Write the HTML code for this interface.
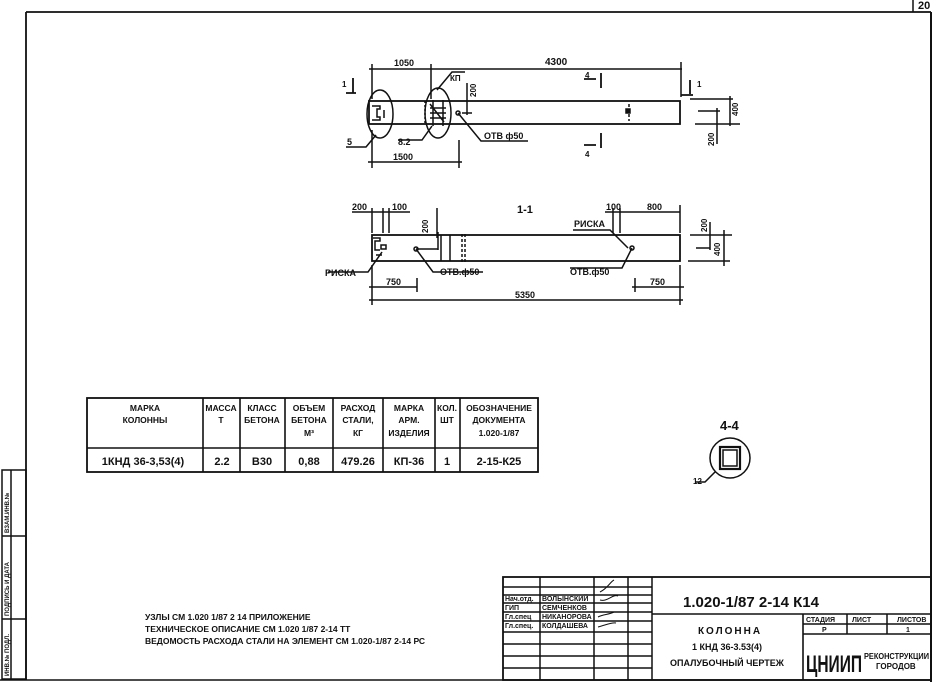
<!DOCTYPE html>
<html><head><meta charset="utf-8"><style>
body{margin:0;background:#fff;width:938px;height:682px;overflow:hidden}
svg{display:block}
text{font-family:"Liberation Sans Narrow","Liberation Sans",sans-serif;font-weight:bold;fill:#111}
</style></head><body>
<svg width="938" height="682" viewBox="0 0 938 682" xmlns="http://www.w3.org/2000/svg">
<g stroke="#111" fill="none" stroke-width="1.5">
<line x1="26" y1="12" x2="931" y2="12" stroke-width="1.8"/>
<line x1="26" y1="12" x2="26" y2="680" stroke-width="1.8"/>
<line x1="931" y1="12" x2="931" y2="682" stroke-width="2"/>
<line x1="0" y1="680" x2="931" y2="680" stroke-width="1.6"/>
<line x1="913" y1="0" x2="913" y2="12"/>
<rect x="2" y="470" width="24" height="209"/>
<line x1="11" y1="470" x2="11" y2="679"/>
<line x1="2" y1="536" x2="26" y2="536"/>
<line x1="2" y1="619" x2="26" y2="619"/>

<rect x="369" y="101" width="311" height="23" stroke-width="1.8"/>
<ellipse cx="380" cy="114" rx="13" ry="24"/>
<ellipse cx="438" cy="113" rx="13" ry="25"/>
<path d="M372 106h8v3h-3v8h3v3h-8M384 110v8"/>
<line x1="425" y1="101" x2="425" y2="124" stroke-dasharray="2,2"/>
<path d="M430 104l14 18M430 108h16M430 113h16M430 118h16M433 100v26M443 100v26"/>
<circle cx="458" cy="113" r="2"/>
<path d="M458 113l23 28h47"/>
<path d="M437 90l15-18h13"/>
<path d="M432 126l-10 14h-24"/>
<path d="M376 135l-10 12h-20"/>
<path d="M629 104v17" stroke-dasharray="3,2"/>
<rect x="626" y="109" width="4" height="4" fill="#111"/>
<line x1="369" y1="69" x2="682" y2="69"/>
<line x1="372" y1="64" x2="372" y2="99"/>
<line x1="431" y1="64" x2="431" y2="99"/>
<line x1="681" y1="62" x2="681" y2="97"/>
<line x1="372" y1="130" x2="372" y2="168"/>
<line x1="459" y1="140" x2="459" y2="168"/>
<line x1="368" y1="162" x2="462" y2="162"/>
<line x1="467" y1="83" x2="467" y2="115"/>
<line x1="462" y1="113" x2="472" y2="113"/>
<path d="M346 93h10M353 78v15M681 95h12M690 80v14M584 79h12M601 73v15M584 145h12M601 133v15" stroke-width="1.8"/>
<path d="M690 99h43M698 111h22M695 124h45M730 96v30M717 108v36"/>
<rect x="372" y="235" width="308" height="26" stroke-width="1.8"/>
<path d="M441 235v26M450 235v26"/>
<line x1="465" y1="234" x2="465" y2="262" stroke-dasharray="3,2"/>
<line x1="462" y1="234" x2="462" y2="262" stroke-dasharray="3,2"/>
<path d="M373 238h7v3h-5v9h5M376 255h6"/>
<rect x="381" y="245" width="5" height="4"/>
<circle cx="416" cy="249" r="2"/>
<path d="M416 249h22M438 232v18"/>
<path d="M416 249l17 23h50"/>
<circle cx="632" cy="248" r="2"/>
<path d="M632 248l-10 20h-52"/>
<path d="M628 248l-18-18h-37"/>
<path d="M382 252l-14 20h-40"/>
<path d="M352 212h40M372 208v25M383 208v25M389 208v25M392 212h18"/>
<path d="M605 212h75M613 208v25M620 208v25M680 205v28"/>
<path d="M437 208v30"/>
<path d="M369 287h48M372 265v40M417 278v14"/>
<path d="M632 287h52M635 278v14M680 265v40"/>
<path d="M369 300h314"/>
<path d="M690 235h42M696 248h14M688 261h42M710 222v28M724 230v36"/>

<rect x="87" y="398" width="451" height="74" stroke-width="1.8"/>
<line x1="87" y1="448" x2="538" y2="448" stroke-width="1.6"/>
<path d="M203 398v74M240 398v74M285 398v74M333 398v74M383 398v74M435 398v74M460 398v74" stroke-width="1.6"/>

<circle cx="730" cy="458" r="20"/>
<rect x="720" y="447" width="20" height="22" stroke-width="2.2"/>
<rect x="723" y="450" width="14" height="16"/>
<path d="M715 472l-10 10h-10"/>

<rect x="503" y="577" width="428" height="103" stroke-width="1.8"/>
<path d="M540 577v103M594 577v103M628 577v103M652 577v103" />
<path d="M503 587h149M503 595h149M503 603h149M503 612h149M503 621h149M503 632h149M503 644h149M503 656h149M503 668h149"/>
<line x1="652" y1="614" x2="931" y2="614" stroke-width="1.6"/>
<line x1="803" y1="614" x2="803" y2="680" stroke-width="1.6"/>
<path d="M803 624h128M803 634h128M847 614v20M887 614v20"/>
<path d="M600 592c8-4 10-10 14-12M600 600c8 2 12-6 18-4M598 617c6-3 10-2 16-5M598 627c8-2 14-5 18-4" stroke-width="1"/>
</g>

<g font-size="9">
<text x="394" y="66">1050</text>
<text x="545" y="65" font-size="10">4300</text>
<text x="450" y="81" font-size="8">КП</text>
<text x="398" y="145">8.2</text>
<text x="347" y="145">5</text>
<text x="393" y="160">1500</text>
<text x="484" y="139">ОТВ ф50</text>
<text x="585" y="78" font-size="8">4</text>
<text x="585" y="157" font-size="8">4</text>
<text x="342" y="87" font-size="8">1</text>
<text x="697" y="87" font-size="8">1</text>
<text x="517" y="213" font-size="11">1-1</text>
<text x="352" y="210">200</text>
<text x="392" y="210">100</text>
<text x="606" y="210">100</text>
<text x="647" y="210">800</text>
<text x="574" y="227">РИСКА</text>
<text x="325" y="276">РИСКА</text>
<text x="440" y="275">ОТВ.ф50</text>
<text x="570" y="275">ОТВ.ф50</text>
<text x="386" y="285">750</text>
<text x="650" y="285">750</text>
<text x="515" y="298">5350</text>
<g font-size="8">
<text transform="translate(476,97) rotate(-90)">200</text>
<text transform="translate(714,146) rotate(-90)">200</text>
<text transform="translate(738,116) rotate(-90)">400</text>
<text transform="translate(428,233) rotate(-90)">200</text>
<text transform="translate(707,232) rotate(-90)">200</text>
<text transform="translate(720,256) rotate(-90)">400</text>
</g>
<g font-size="8.5" text-anchor="middle">
<text x="145" y="411">МАРКА</text><text x="145" y="423">КОЛОННЫ</text>
<text x="221" y="411">МАССА</text><text x="221" y="423">Т</text>
<text x="262" y="411">КЛАСС</text><text x="262" y="423">БЕТОНА</text>
<text x="309" y="411">ОБЪЕМ</text><text x="309" y="423">БЕТОНА</text><text x="309" y="436">М³</text>
<text x="358" y="411">РАСХОД</text><text x="358" y="423">СТАЛИ,</text><text x="358" y="436">КГ</text>
<text x="409" y="411">МАРКА</text><text x="409" y="423">АРМ.</text><text x="409" y="436">ИЗДЕЛИЯ</text>
<text x="447" y="411">КОЛ.</text><text x="447" y="423">ШТ</text>
<text x="499" y="411">ОБОЗНАЧЕНИЕ</text><text x="499" y="423">ДОКУМЕНТА</text><text x="499" y="436">1.020-1/87</text>
</g>
<g font-size="11" text-anchor="middle">
<text x="143" y="465">1КНД 36-3,53(4)</text>
<text x="222" y="465">2.2</text>
<text x="262" y="465">В30</text>
<text x="309" y="465">0,88</text>
<text x="358" y="465">479.26</text>
<text x="409" y="465">КП-36</text>
<text x="447" y="465">1</text>
<text x="499" y="465">2-15-К25</text>
</g>
<text x="720" y="430" font-size="13" font-weight="normal">4-4</text>
<text x="693" y="484" font-size="8">12</text>
<g font-size="8.5">
<text x="145" y="620">УЗЛЫ СМ 1.020 1/87 2 14 ПРИЛОЖЕНИЕ</text>
<text x="145" y="632">ТЕХНИЧЕСКОЕ ОПИСАНИЕ СМ 1.020 1/87 2-14 ТТ</text>
<text x="145" y="644">ВЕДОМОСТЬ РАСХОДА СТАЛИ НА ЭЛЕМЕНТ СМ 1.020-1/87 2-14 РС</text>
</g>
<g font-size="7">
<text x="505" y="601">Нач.отд.</text><text x="542" y="601">ВОЛЫНСКИЙ</text>
<text x="505" y="610">ГИП</text><text x="542" y="610">СЕМЧЕНКОВ</text>
<text x="505" y="619">Гл.спец</text><text x="542" y="619">НИКАНОРОВА</text>
<text x="505" y="628">Гл.спец.</text><text x="542" y="628">КОЛДАШЕВА</text>
<text x="806" y="622">СТАДИЯ</text><text x="852" y="622">ЛИСТ</text><text x="897" y="622">ЛИСТОВ</text>
<text x="822" y="632">Р</text><text x="906" y="632">1</text>
</g>
<text x="683" y="607" font-size="15" font-weight="normal">1.020-1/87 2-14 К14</text>
<g text-anchor="middle" font-size="9">
<text x="730" y="634" font-size="10" letter-spacing="2">КОЛОННА</text>
<text x="727" y="650">1 КНД 36-3.53(4)</text>
<text x="727" y="666">ОПАЛУБОЧНЫЙ ЧЕРТЕЖ</text>
</g>
<text x="806" y="672" font-size="24" font-weight="normal" textLength="56" lengthAdjust="spacingAndGlyphs">ЦНИИП</text>
<text x="864" y="659" font-size="8" textLength="65" lengthAdjust="spacingAndGlyphs">РЕКОНСТРУКЦИИ</text>
<text x="876" y="669" font-size="8">ГОРОДОВ</text>
<text x="918" y="9" font-size="11">20</text>
<g font-size="6">
<text transform="translate(9,676) rotate(-90)">ИНВ.№ ПОДЛ.</text>
<text transform="translate(9,616) rotate(-90)">ПОДПИСЬ И ДАТА</text>
<text transform="translate(9,533) rotate(-90)">ВЗАМ.ИНВ.№</text>
</g>
</svg>
</body></html>
